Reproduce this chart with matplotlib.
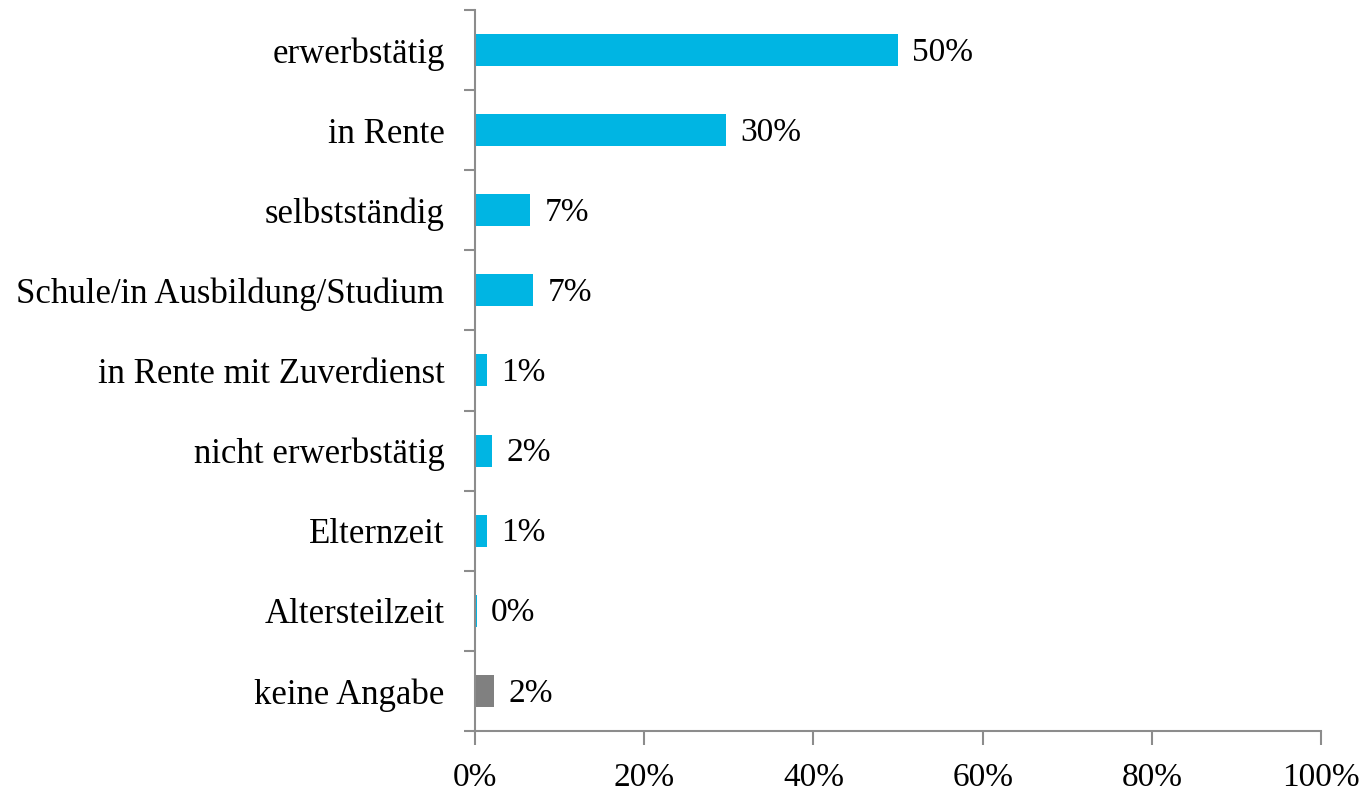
import matplotlib.pyplot as plt
from matplotlib.ticker import FixedLocator, PercentFormatter

# ==================== Daten ====================
categories = [
    "erwerbstätig",
    "in Rente",
    "selbstständig",
    "Schule/in Ausbildung/Studium",
    "in Rente mit Zuverdienst",
    "nicht erwerbstätig",
    "Elternzeit",
    "Altersteilzeit",
    "keine Angabe",
]
values = [50.0, 29.7, 6.5, 6.9, 1.4, 2.0, 1.4, 0.2, 2.2]
labels = ["50%", "30%", "7%", "7%", "1%", "2%", "1%", "0%", "2%"]
x_ticks = [0, 20, 40, 60, 80, 100]

BLUE = "#00B5E3"
GREY = "#808080"
AXIS = "#8C8C8C"
colors = [BLUE] * (len(categories) - 1) + [GREY]

plt.rcParams['font.family'] = ['Liberation Serif', 'DejaVu Serif']

fig = plt.figure(figsize=(13.62, 7.91), dpi=100)
ax = fig.add_axes([0.3488, 0.0759, 0.9699 - 0.3488, 0.9874 - 0.0759])

n = len(categories)
ypos = list(range(n))
ax.barh(ypos, values, height=0.4, color=colors)
ax.set_ylim(n - 0.5, -0.5)
ax.set_xlim(0, 100)

# Datenbeschriftungen
for y, v, lab in zip(ypos, values, labels):
    ax.text(v + 1.7, y + 0.03, lab, va='center', ha='left', fontsize=24, color='black')

# y-Achse: Beschriftung ohne Striche, Striche zwischen den Kategorien
ax.set_yticks(ypos)
ax.set_yticklabels(categories, fontsize=25)
ax.tick_params(axis='y', which='major', length=0, pad=22)
ax.yaxis.set_minor_locator(FixedLocator([i - 0.5 for i in range(n + 1)]))
ax.tick_params(axis='y', which='minor', length=8, width=1.5, color=AXIS, direction='out')

# x-Achse
ax.set_xticks(x_ticks)
ax.xaxis.set_major_formatter(PercentFormatter(decimals=0))
ax.tick_params(axis='x', which='major', length=10, width=1.5, color=AXIS,
               direction='out', labelsize=24, pad=13)

for side in ('top', 'right'):
    ax.spines[side].set_visible(False)
for side in ('left', 'bottom'):
    ax.spines[side].set_color(AXIS)
    ax.spines[side].set_linewidth(1.5)

fig.savefig('out.png', dpi=100)
